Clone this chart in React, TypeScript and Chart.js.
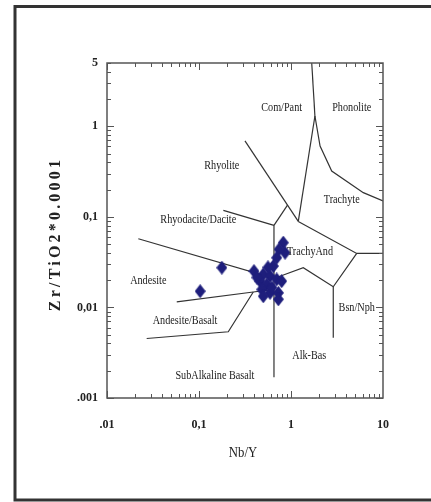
import React, { useEffect, useRef } from "react";
import { Chart, registerables } from "chart.js";
Chart.register(...registerables);

// Axis ticks
const xTickValues = [0.01, 0.1, 1, 10];
const xTickLabels = [".01", "0,1", "1", "10"];
const yTickValues = [0.001, 0.01, 0.1, 1, 5];
const yTickLabels = [".001", "0,01", "0,1", "1", "5"];

// Samples (Nb/Y vs Zr/TiO2*0.0001)
const sampleNbY = [0.103, 0.177, 0.396, 0.824, 0.861, 0.741, 0.7, 0.643, 0.5, 0.592, 0.46, 0.545, 0.7, 0.792, 0.481, 0.592, 0.5, 0.728, 0.728, 0.427, 0.621, 0.562];
const sampleZrTi = [0.0151, 0.0275, 0.0252, 0.0519, 0.0402, 0.0438, 0.0354, 0.0286, 0.0232, 0.0222, 0.0195, 0.018, 0.0204, 0.0195, 0.0158, 0.0145, 0.0133, 0.0145, 0.0123, 0.0214, 0.0166, 0.0277];

// Field boundaries [Nb/Y, Zr/TiO2]
const comPantPhonolite = [[1.68, 5], [1.82, 1.3]];
const phonoliteTrachyte = [[1.82, 1.3], [2.07, 0.606], [2.77, 0.321], [6.11, 0.185], [10, 0.15]];
const comPantTrachyte = [[1.82, 1.3], [1.2, 0.0891]];
const rhyoliteComPant = [[0.316, 0.689], [1.2, 0.0891]];
const trachyteTrachyAnd = [[1.2, 0.0891], [5.18, 0.0395], [10, 0.0395]];
const rhyodaciteTrachyAnd = [[0.916, 0.135], [0.653, 0.0806]];
const rhyodaciteAndesite = [[0.184, 0.118], [0.653, 0.0806]];
const subAlkalineAlkaline = [[0.653, 0.0806], [0.653, 0.00169]];
const andesiteTrachyAnd = [[0.0219, 0.0574], [0.653, 0.0209], [1.36, 0.0275], [2.88, 0.0169], [5.18, 0.0395]];
const bsnNphAlkBas = [[2.88, 0.0169], [2.88, 0.00463]];
const andesiteBasaltUpper = [[0.0573, 0.0115], [0.389, 0.0148], [0.653, 0.0158]];
const subAlkBasaltUpper = [[0.027, 0.00454], [0.208, 0.00539], [0.389, 0.0148]];

const boundaries = [
  comPantPhonolite, phonoliteTrachyte, comPantTrachyte, rhyoliteComPant, trachyteTrachyAnd,
  rhyodaciteTrachyAnd, rhyodaciteAndesite, subAlkalineAlkaline, andesiteTrachyAnd, bsnNphAlkBas,
  andesiteBasaltUpper, subAlkBasaltUpper,
];

// Field names
const fieldNames = ["Com/Pant", "Phonolite", "Rhyolite", "Trachyte", "Rhyodacite/Dacite", "TrachyAnd", "Andesite", "Andesite/Basalt", "Bsn/Nph", "Alk-Bas", "SubAlkaline Basalt"];
const fieldX = [0.792, 4.57, 0.177, 3.56, 0.0982, 1.61, 0.0281, 0.0705, 5.18, 1.58, 0.149];
const fieldY = [1.61, 1.61, 0.364, 0.156, 0.0922, 0.0412, 0.0199, 0.00706, 0.00993, 0.00295, 0.00177];

const xTitle = "Nb/Y";
const yTitle = "Zr/TiO2*0.0001";

export default function App() {
  const ref = useRef<HTMLCanvasElement>(null);

  useEffect(() => {
    const canvas = ref.current!;
    const diamond = document.createElement("canvas");
    diamond.width = 11;
    diamond.height = 14;
    const dc = diamond.getContext("2d")!;
    dc.beginPath();
    dc.moveTo(5.5, 0);
    dc.lineTo(11, 7);
    dc.lineTo(5.5, 14);
    dc.lineTo(0, 7);
    dc.closePath();
    dc.fillStyle = "#1e1e7c";
    dc.fill();

    const decorPlugin = {
      id: "decor",
      beforeDraw(chart: any) {
        const ctx = chart.ctx;
        ctx.save();
        ctx.fillStyle = "#fff";
        ctx.fillRect(0, 0, chart.width, chart.height);
        ctx.strokeStyle = "#333";
        ctx.lineWidth = 3;
        ctx.strokeRect(15, 6.5, 500, 493.5);
        ctx.restore();
      },
      afterDatasetsDraw(chart: any) {
        const ctx = chart.ctx;
        const xs = chart.scales.x;
        const ys = chart.scales.y;
        const { left, right, top, bottom } = chart.chartArea;
        ctx.save();
        // field labels
        ctx.fillStyle = "#1a1a1a";
        ctx.textAlign = "center";
        ctx.textBaseline = "middle";
        ctx.font = "12px 'Liberation Serif'";
        fieldNames.forEach((name, i) => {
          const px = xs.getPixelForValue(fieldX[i]);
          const py = ys.getPixelForValue(fieldY[i]);
          ctx.save();
          ctx.translate(px, py);
          ctx.scale(0.85, 1);
          ctx.fillText(name, 0, 0);
          ctx.restore();
        });
        // frame
        ctx.strokeStyle = "#555";
        ctx.lineWidth = 1.5;
        ctx.strokeRect(left, top, right - left, bottom - top);
        ctx.lineWidth = 1;
        ctx.beginPath();
        for (let d = -2; d <= 0; d++) {
          for (let m = 1; m <= 9; m++) {
            const v = m * Math.pow(10, d);
            const px = Math.round(xs.getPixelForValue(v)) + 0.5;
            const len = m === 1 ? 7 : 4;
            ctx.moveTo(px, bottom);
            ctx.lineTo(px, bottom - len);
            ctx.moveTo(px, top);
            ctx.lineTo(px, top + len);
          }
        }
        for (let d = -3; d <= 0; d++) {
          for (let m = 1; m <= 9; m++) {
            const v = m * Math.pow(10, d);
            if (v > 5) continue;
            const py = Math.round(ys.getPixelForValue(v)) + 0.5;
            const len = m === 1 ? 7 : 4;
            ctx.moveTo(left, py);
            ctx.lineTo(left + len, py);
            ctx.moveTo(right, py);
            ctx.lineTo(right - len, py);
          }
        }
        ctx.stroke();
        // axis titles
        ctx.fillStyle = "#222";
        ctx.font = "15px 'Liberation Serif'";
        ctx.save();
        ctx.translate(243, 453);
        ctx.scale(0.85, 1);
        ctx.fillText(xTitle, 0, 0);
        ctx.restore();
        ctx.save();
        ctx.translate(56, 234);
        ctx.rotate(-Math.PI / 2);
        ctx.font = "bold 16px 'Liberation Serif'";
        (ctx as any).letterSpacing = "3.2px";
        ctx.fillText(yTitle, 0, 0);
        ctx.restore();
        ctx.restore();
      },
    };

    const lineSets = boundaries.map((seg) => ({
      data: seg.map(([x, y]) => ({ x, y })),
      showLine: true,
      borderColor: "#333",
      borderWidth: 1.2,
      pointRadius: 0,
      fill: false,
      order: 2,
    }));

    const chart = new Chart(canvas, {
      type: "scatter",
      data: {
        datasets: [
          {
            data: sampleNbY.map((x, i) => ({ x, y: sampleZrTi[i] })),
            pointStyle: diamond as any,
            pointRadius: 6,
            order: 0,
          } as any,
          ...lineSets,
        ],
      },
      options: {
        responsive: false,
        animation: false,
        devicePixelRatio: 1,
        layout: { padding: { left: 0, top: 63, right: 48, bottom: 0 } },
        plugins: { legend: { display: false }, tooltip: { enabled: false } },
        scales: {
          x: {
            type: "logarithmic",
            min: 0.01,
            max: 10,
            grid: { display: false, drawTicks: false },
            border: { display: false },
            ticks: {
              color: "#222",
              font: { family: "'Liberation Serif'", size: 12, weight: "bold" },
              padding: 20,
              maxRotation: 0,
              autoSkip: false,
              callback: (v: any) => {
                const i = xTickValues.indexOf(Number(v));
                return i >= 0 ? xTickLabels[i] : "";
              },
            },
            afterBuildTicks: (s: any) => {
              s.ticks = xTickValues.map((value) => ({ value }));
            },
            afterFit: (s: any) => {
              s.height = 104;
            },
          },
          y: {
            type: "logarithmic",
            min: 0.001,
            max: 5,
            grid: { display: false, drawTicks: false },
            border: { display: false },
            ticks: {
              color: "#222",
              font: { family: "'Liberation Serif'", size: 12, weight: "bold" },
              padding: 9,
              autoSkip: false,
              callback: (v: any) => {
                const i = yTickValues.indexOf(Number(v));
                return i >= 0 ? yTickLabels[i] : "";
              },
            },
            afterBuildTicks: (s: any) => {
              s.ticks = yTickValues.map((value) => ({ value }));
            },
            afterFit: (s: any) => {
              s.width = 107;
            },
          },
        },
      } as any,
      plugins: [decorPlugin],
    });
    return () => chart.destroy();
  }, []);

  return (
    <div style={{ position: "fixed", left: 0, top: 0, width: 431, height: 502, background: "#fff" }}>
      <canvas ref={ref} width={431} height={502} style={{ display: "block", width: 431, height: 502 }} />
    </div>
  );
}
